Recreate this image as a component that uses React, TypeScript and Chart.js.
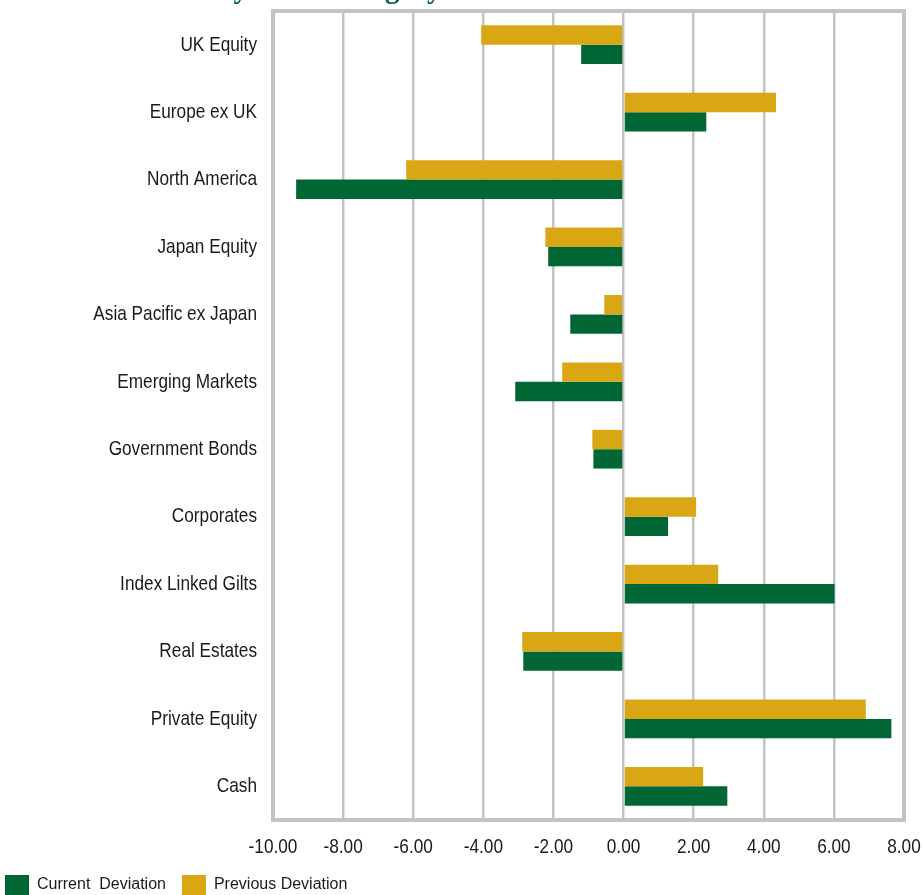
import React, { useEffect, useRef } from "react";
import { Chart, registerables } from "chart.js";

Chart.register(...registerables);

const categories = [
  "UK Equity",
  "Europe ex UK",
  "North America",
  "Japan Equity",
  "Asia Pacific ex Japan",
  "Emerging Markets",
  "Government Bonds",
  "Corporates",
  "Index Linked Gilts",
  "Real Estates",
  "Private Equity",
  "Cash",
];

const previousDeviation = [-4.06, 4.35, -6.2, -2.23, -0.55, -1.75, -0.89, 2.07, 2.7, -2.89, 6.91, 2.27];
const currentDeviation = [-1.21, 2.36, -9.34, -2.15, -1.52, -3.09, -0.86, 1.27, 6.02, -2.86, 7.64, 2.96];

const xMin = -10;
const xMax = 8;
const xStep = 2;

const GREEN = "#006633";
const GOLD = "#D9A713";
const GRID = "#c3c3c3";
const TEXT = "#1a1a1a";
const SANS = '"Liberation Sans", Arial, sans-serif';

// Thick grey frame around the plotting area
const framePlugin = {
  id: "plotFrame",
  beforeDatasetsDraw(chart: any) {
    const { ctx, chartArea } = chart;
    ctx.save();
    ctx.strokeStyle = GRID;
    ctx.lineWidth = 4;
    ctx.strokeRect(chartArea.left, chartArea.top, chartArea.right - chartArea.left, chartArea.bottom - chartArea.top);
    ctx.restore();
  },
};

// Axis labels in a narrow face: Liberation Sans squeezed horizontally
const NARROW_SCALE = 0.82;
const narrowLabelsPlugin = {
  id: "narrowLabels",
  afterDraw(chart: any) {
    const { ctx, chartArea, scales } = chart;
    const drawNarrow = (text: string, x: number, y: number) => {
      ctx.save();
      ctx.translate(x, y);
      ctx.scale(NARROW_SCALE, 1);
      ctx.fillText(text, 0, 0);
      ctx.restore();
    };
    ctx.save();
    ctx.fillStyle = TEXT;
    ctx.font = `21px ${SANS}`;
    ctx.textBaseline = "middle";

    ctx.textAlign = "right";
    const labels = chart.data.labels as string[];
    scales.y.ticks.forEach((_t: any, i: number) => {
      drawNarrow(String(labels[i]), chartArea.left - 16, scales.y.getPixelForTick(i));
    });

    ctx.textAlign = "center";
    scales.x.ticks.forEach((t: any, i: number) => {
      drawNarrow(Number(t.value).toFixed(2), scales.x.getPixelForTick(i), chartArea.bottom + 27);
    });
    ctx.restore();
  },
};

export default function App() {
  const canvasRef = useRef<HTMLCanvasElement | null>(null);

  useEffect(() => {
    if (!canvasRef.current) return;
    const chart = new Chart(canvasRef.current, {
      type: "bar",
      data: {
        labels: categories,
        datasets: [
          {
            label: "Previous Deviation",
            data: previousDeviation,
            backgroundColor: GOLD,
            borderWidth: 0,
            categoryPercentage: 0.574,
            barPercentage: 1,
          },
          {
            label: "Current  Deviation",
            data: currentDeviation,
            backgroundColor: GREEN,
            borderWidth: 0,
            categoryPercentage: 0.574,
            barPercentage: 1,
          },
        ],
      },
      options: {
        indexAxis: "y",
        responsive: false,
        animation: false,
        devicePixelRatio: 1,
        layout: { padding: { left: -11, right: 20, top: 11, bottom: -10 } },
        scales: {
          x: {
            min: xMin,
            max: xMax,
            ticks: { stepSize: xStep, display: false },
            grid: { color: GRID, lineWidth: 2.5, drawTicks: false },
            border: { display: false },
            afterFit: (scale: any) => {
              scale.height = 39;
              scale.paddingLeft = 0;
              scale.paddingRight = 0;
            },
          },
          y: {
            ticks: { display: false },
            grid: { display: false, drawTicks: false },
            border: { display: false },
            afterFit: (scale: any) => {
              scale.width = 284;
              scale.paddingTop = 0;
              scale.paddingBottom = 0;
            },
          },
        },
        plugins: {
          legend: {
            position: "bottom",
            align: "start",
            reverse: true,
            labels: {
              boxWidth: 24,
              boxHeight: 20,
              padding: 16,
              color: TEXT,
              font: { family: SANS, size: 16 },
            },
          },
          tooltip: { enabled: false },
        },
      },
      plugins: [framePlugin, narrowLabelsPlugin],
    });
    return () => chart.destroy();
  }, []);

  return (
    <div
      style={{
        position: "absolute",
        left: 0,
        top: 0,
        width: 924,
        height: 895,
        overflow: "hidden",
        background: "#ffffff",
      }}
    >
      <canvas ref={canvasRef} width={924} height={895} style={{ position: "absolute", left: 0, top: 0 }} />
      <div
        style={{
          position: "absolute",
          left: 91,
          top: -26,
          whiteSpace: "nowrap",
          fontFamily: '"Liberation Serif", "Times New Roman", serif',
          fontWeight: "bold",
          fontSize: 29,
          lineHeight: "29px",
          color: GREEN,
        }}
      >
        Deviation by Asset Category
      </div>
    </div>
  );
}
